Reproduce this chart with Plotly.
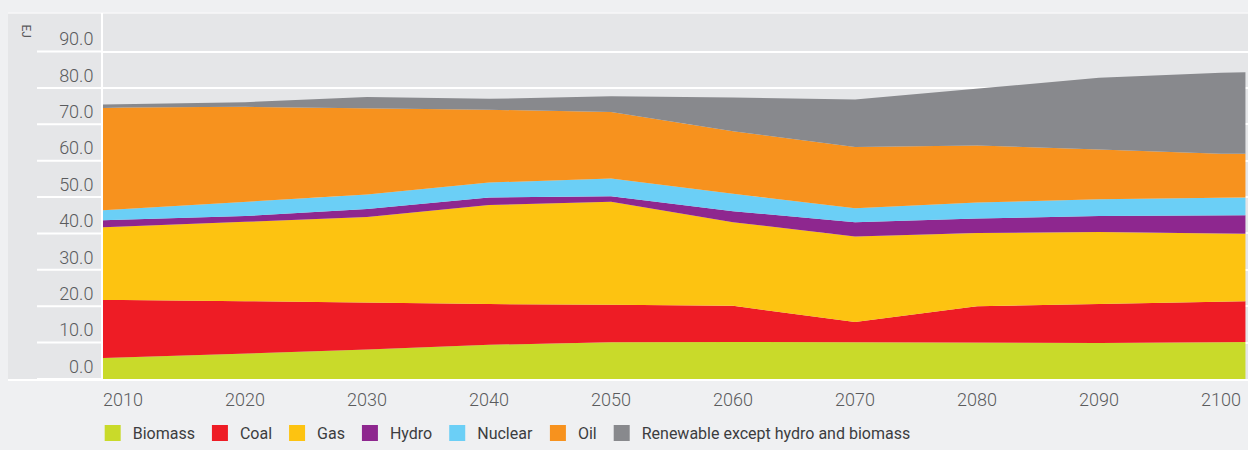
import plotly.graph_objects as go

years = [2008, 2010, 2020, 2030, 2040, 2050, 2060, 2070, 2080, 2090, 2100, 2102]
biomass = [5.7, 5.9, 7.0, 8.1, 9.4, 10.1, 10.2, 10.1, 9.9, 9.9, 10.1, 10.2]
coal = [16.0, 15.8, 14.4, 12.8, 11.2, 10.3, 9.9, 5.6, 10.1, 10.7, 11.3, 11.2]
gas = [20.0, 20.2, 21.8, 23.6, 27.2, 28.3, 23.0, 23.5, 20.1, 19.8, 18.6, 18.5]
hydro = [1.9, 1.9, 1.6, 2.2, 2.1, 1.5, 3.0, 3.9, 4.0, 4.4, 4.9, 5.1]
nuclear = [2.7, 2.9, 4.0, 4.0, 4.1, 4.9, 4.8, 3.8, 4.4, 4.6, 4.9, 4.9]
oil = [28.2, 27.9, 26.0, 23.8, 20.0, 18.3, 17.2, 16.9, 15.7, 13.7, 12.1, 12.0]
renewable = [0.9, 0.9, 1.3, 3.0, 3.0, 4.3, 9.3, 13.0, 15.6, 19.7, 22.3, 22.4]

series_names = ["Biomass", "Coal", "Gas", "Hydro", "Nuclear", "Oil",
                "Renewable except hydro and biomass"]
series_values = [biomass, coal, gas, hydro, nuclear, oil, renewable]
colors = ["#c9da2a", "#ee1c25", "#fdc311", "#8e278f", "#6bcff6", "#f7921e", "#88898d"]

y_ticks = [0, 10, 20, 30, 40, 50, 60, 70, 80, 90]
x_ticks = [2010, 2020, 2030, 2040, 2050, 2060, 2070, 2080, 2090, 2100]
y_unit = "EJ"

W, H = 1248, 450
ML, MR, MT, MB = 103, 0, 13, 70
plot_w = W - ML - MR
plot_h = H - MT - MB

fig = go.Figure()
for name, vals, col in zip(series_names, series_values, colors):
    fig.add_trace(go.Scatter(
        x=years, y=vals, name=name, mode="lines", stackgroup="one",
        line=dict(width=0, color=col), fillcolor=col, showlegend=False,
        hoverinfo="x+y+name"))
for name, col in zip(series_names, colors):
    fig.add_trace(go.Scatter(
        x=[None], y=[None], name=name, mode="markers",
        marker=dict(symbol="square", size=16, color=col), showlegend=True))

text_col = "#5a5b5d"
font_family = "Roboto"

px_left_panel = (8 - ML) / plot_w
px_left_grid = (37 - ML) / plot_w

shapes = [
    dict(type="rect", xref="paper", yref="paper", x0=px_left_panel, x1=1, y0=0, y1=1,
         fillcolor="#e5e6e8", line=dict(width=0), layer="below"),
    dict(type="line", xref="paper", yref="paper", x0=px_left_panel, x1=1, y0=1, y1=1,
         line=dict(color="#f7f7f8", width=1.5), layer="below"),
]
for v in y_ticks:
    shapes.append(dict(type="line", xref="paper", yref="y", x0=px_left_grid, x1=-2 / plot_w,
                       y0=v, y1=v, line=dict(color="white", width=2), layer="below"))
shapes.append(dict(type="rect", xref="paper", yref="paper", x0=px_left_panel, x1=1,
                   ysizemode="pixel", yanchor=0, y0=0, y1=-2,
                   fillcolor="white", line=dict(width=0), layer="above"))

fig.update_layout(
    width=W, height=H,
    margin=dict(l=ML, r=MR, t=MT, b=MB),
    paper_bgcolor="#eff0f2",
    plot_bgcolor="rgba(0,0,0,0)",
    font=dict(family=font_family, color=text_col),
    shapes=shapes,
    showlegend=True,
    legend=dict(orientation="h", x=-0.009, xanchor="left", y=-0.147, yanchor="middle",
                traceorder="normal",
                font=dict(size=16, color="#3c3d3f", family=font_family),
                bgcolor="rgba(0,0,0,0)", itemsizing="trace", tracegroupgap=0),
    annotations=[dict(text=y_unit, xref="paper", yref="paper",
                      x=(17 - ML) / plot_w, y=(380 - 22) / plot_h,
                      showarrow=False, textangle=90,
                      font=dict(size=12, color=text_col, family=font_family))],
)
fig.update_xaxes(
    range=[2008.36, 2102.21], tickvals=x_ticks, ticks="", showgrid=False, zeroline=False,
    showline=False, ticklabelstandoff=8,
    tickfont=dict(size=18, color=text_col, family=font_family, weight=300),
    fixedrange=True)
fig.update_yaxes(
    range=[0, 100.6], tickvals=y_ticks, tickformat=".1f", ticks="",
    showgrid=True, gridcolor="white", gridwidth=2, zeroline=False,
    showline=True, linecolor="white", linewidth=2,
    ticklabelposition="outside top", ticklabelstandoff=4,
    tickfont=dict(size=18, color=text_col, family=font_family, weight=300),
    fixedrange=True)

fig.write_html("out.html", config={"displayModeBar": False},
               post_script="document.body.style.margin='0';document.body.style.overflow='hidden';")
